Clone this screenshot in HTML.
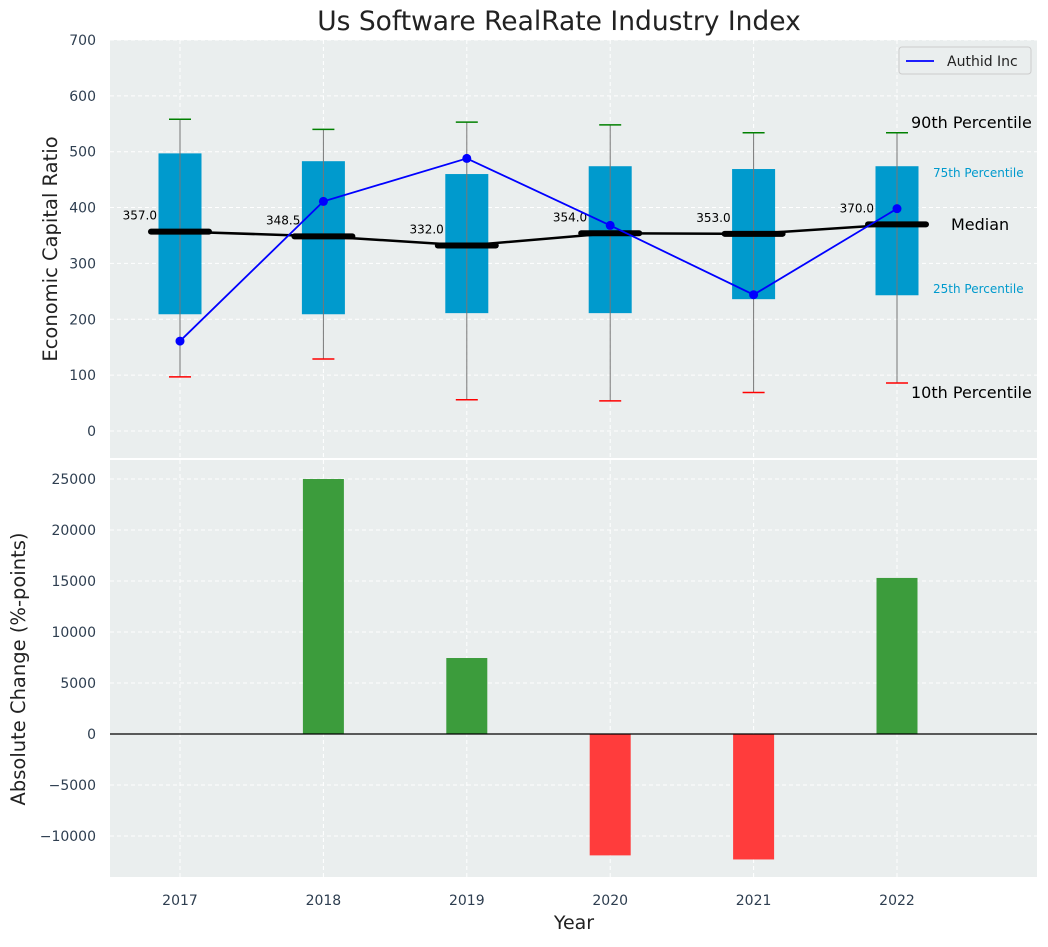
<!DOCTYPE html>
<html><head><meta charset="utf-8"><style>
body{margin:0;background:#fff;}
svg text{font-family:"DejaVu Sans","Liberation Sans",sans-serif;}
</style></head><body>
<svg id="chart" width="1048" height="942" xmlns="http://www.w3.org/2000/svg"></svg>
<script>
const years=[2017,2018,2019,2020,2021,2022];
const p10=[97,129,56,54,69,86];
const p25=[209,209,211,211,236,243];
const medians=[357,348.5,332,354,353,370];
const p75=[497,483,460,474,469,474];
const p90=[558,540,553,548,534,534];
const authid=[161,411,488,368,244,398];
const changes=[0,25000,7450,-11900,-12300,15300];
const topTicks=[0,100,200,300,400,500,600,700];
const botTicks=[-10000,-5000,0,5000,10000,15000,20000,25000];

const NS="http://www.w3.org/2000/svg";
const svg=document.getElementById('chart');
function el(t,a,p){const e=document.createElementNS(NS,t);for(const k in a)e.setAttribute(k,a[k]);(p||svg).appendChild(e);return e;}
const L=110,R=1037;
const xS=i=>180+i*143.4;
const yT=v=>431-v*0.5586;
const yB=v=>734-v*51/5000;

let r=el('rect',{x:L,y:40,width:R-L,height:418,fill:'#eaeeee'});

r=el('rect',{x:L,y:460,width:R-L,height:417,fill:'#eaeeee'});


years.forEach((y,i)=>{
  el('line',{x1:xS(i),x2:xS(i),y1:40,y2:458,stroke:'#fff','stroke-dasharray':'4,3'});
  el('line',{x1:xS(i),x2:xS(i),y1:460,y2:877,stroke:'#fff','stroke-dasharray':'4,3'});
  const t=el('text',{x:xS(i),y:905,'text-anchor':'middle','font-size':14,fill:'#2e3e50'});t.textContent=y;
  
});
topTicks.forEach(v=>{
  el('line',{x1:L,x2:R,y1:yT(v),y2:yT(v),stroke:'#fff','stroke-dasharray':'4,3'});
  const t=el('text',{x:96,y:yT(v)+5,'text-anchor':'end','font-size':14,fill:'#2e3e50'});t.textContent=v;
  
});
botTicks.forEach(v=>{
  el('line',{x1:L,x2:R,y1:yB(v),y2:yB(v),stroke:'#fff','stroke-dasharray':'4,3'});
  const t=el('text',{x:96,y:yB(v)+5,'text-anchor':'end','font-size':14,fill:'#2e3e50'});t.textContent=v<0?'\u2212'+(-v):v;
  
});

years.forEach((y,i)=>{
  const x=xS(i);
  let b=el('rect',{x:x-21.5,y:yT(p75[i]),width:43,height:yT(p25[i])-yT(p75[i]),fill:'#009acd'});
  
  el('line',{x1:x,x2:x,y1:yT(p90[i]),y2:yT(p10[i]),stroke:'#777','stroke-width':1});
  el('line',{x1:x-11,x2:x+11,y1:yT(p90[i]),y2:yT(p90[i]),stroke:'green','stroke-width':1.5});
  el('line',{x1:x-11,x2:x+11,y1:yT(p10[i]),y2:yT(p10[i]),stroke:'red','stroke-width':1.5});
  let m=el('line',{x1:x-29,x2:x+29,y1:yT(medians[i]),y2:yT(medians[i]),stroke:'#000','stroke-width':6,'stroke-linecap':'round'});
  
  const t=el('text',{x:x-23,y:yT(medians[i])-12,'text-anchor':'end','font-size':12,fill:'#000'});t.textContent=medians[i].toFixed(1);
  
});
let ml=el('polyline',{points:medians.map((v,i)=>xS(i)+','+yT(v)).join(' '),fill:'none',stroke:'#000','stroke-width':2.5});

let al=el('polyline',{points:authid.map((v,i)=>xS(i)+','+yT(v)).join(' '),fill:'none',stroke:'#0000ff','stroke-width':1.8});

authid.forEach((v,i)=>{const c=el('circle',{cx:xS(i),cy:yT(v),r:4.5,fill:'#0000ff'});
  });

const ann=[['90th Percentile',911,128,16,'#000','start'],['75th Percentile',933,177,12,'#009acd','start'],['Median',951,230,16,'#000','start'],['25th Percentile',933,293,12,'#009acd','start'],['10th Percentile',911,398,16,'#000','start']];
ann.forEach(a=>{const t=el('text',{x:a[1],y:a[2],'font-size':a[3],fill:a[4]});t.textContent=a[0];
  });

const lg=el('g',{});
el('rect',{x:899,y:47,width:132,height:27,rx:3,fill:'#eaeeee',stroke:'#ccc'},lg);
el('line',{x1:906,x2:934,y1:61,y2:61,stroke:'#0000ff','stroke-width':1.8},lg);
let lt=el('text',{x:947,y:66,'font-size':14,fill:'#222'},lg);lt.textContent='Authid Inc';

changes.forEach((v,i)=>{
  if(v===0)return;
  const y0=yB(Math.max(v,0)),h=Math.abs(yB(v)-yB(0));
  const b=el('rect',{x:xS(i)-20.5,y:y0,width:41,height:h,fill:v>0?'#3c9c3c':'#ff3c3c'});
  
});
el('line',{x1:L,x2:R,y1:yB(0),y2:yB(0),stroke:'#000','stroke-width':1.2});

let t=el('text',{x:559,y:30,'text-anchor':'middle','font-size':26.5,fill:'#222'});t.textContent='Us Software RealRate Industry Index';

t=el('text',{x:0,y:0,'text-anchor':'middle','font-size':19.5,fill:'#222',transform:'translate(57,249) rotate(-90)'});t.textContent='Economic Capital Ratio';

t=el('text',{x:0,y:0,'text-anchor':'middle','font-size':19.5,fill:'#222',transform:'translate(25,669) rotate(-90)'});t.textContent='Absolute Change (%-points)';

t=el('text',{x:574,y:929,'text-anchor':'middle','font-size':19,fill:'#222'});t.textContent='Year';

</script>
</body></html>
